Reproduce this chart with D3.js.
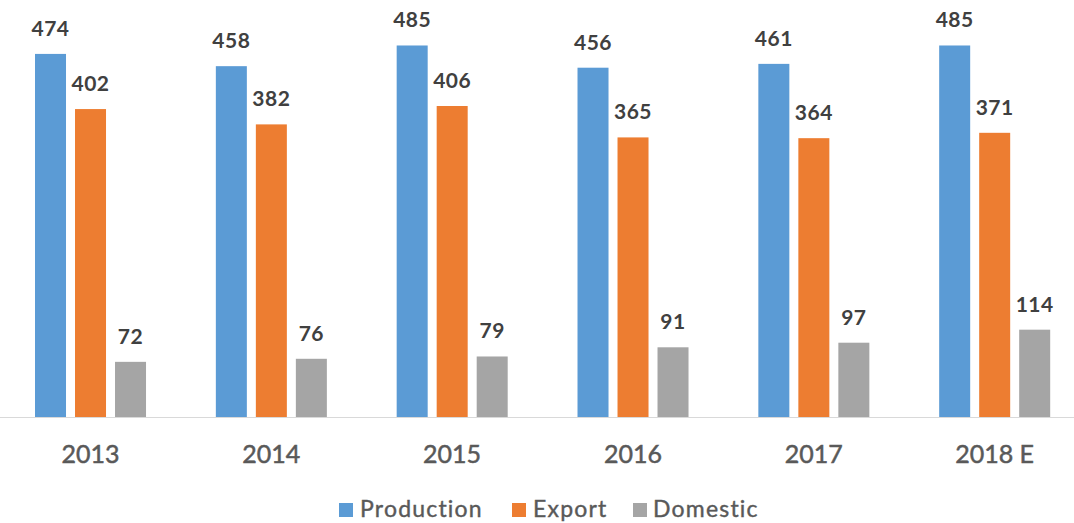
<!DOCTYPE html>
<html>
<head>
<meta charset="utf-8">
<script src="https://cdn.jsdelivr.net/npm/d3@7"></script>
<style>
  html, body { margin: 0; padding: 0; background: #fff; }
  svg { display: block; font-family: Lato, "Open Sans", sans-serif; }
</style>
</head>
<body>
<svg id="chart" width="1074" height="523"></svg>
<script>
const years = ["2013", "2014", "2015", "2016", "2017", "2018 E"];
const seriesNames = ["Production", "Export", "Domestic"];
const production = [474, 458, 485, 456, 461, 485];
const exportVals = [402, 382, 406, 365, 364, 371];
const domestic = [72, 76, 79, 91, 97, 114];
const colors = ["#5B9BD5", "#ED7D31", "#A5A5A5"];

const seriesValues = [production, exportVals, domestic];
const rows = years.map((y, i) => ({
  year: y,
  values: seriesNames.map((s, k) => ({ key: s, value: seriesValues[k][i], idx: k }))
}));

const svg = d3.select("#chart");
const baseY = 417;

const x0 = d3.scaleBand().domain(years).range([0, 1085]).padding(0);
const bw = x0.bandwidth();
const x1 = d3.scaleBand().domain(seriesNames)
  .range([bw * 0.1936, bw * 0.8075]).paddingInner(0.225).paddingOuter(0);
const y = d3.scaleLinear().domain([0, 500]).range([baseY, baseY - 383]);

// baseline
svg.append("line")
  .attr("x1", 0).attr("x2", 1074)
  .attr("y1", baseY + 0.5).attr("y2", baseY + 0.5)
  .attr("stroke", "#d9d9d9").attr("stroke-width", 1);

const groups = svg.selectAll("g.grp").data(rows).enter().append("g")
  .attr("class", "grp")
  .attr("transform", d => `translate(${x0(d.year)},0)`);

groups.selectAll("rect").data(d => d.values).enter().append("rect")
  .attr("x", d => x1(d.key))
  .attr("width", x1.bandwidth())
  .attr("y", d => y(d.value))
  .attr("height", d => baseY - y(d.value))
  .attr("fill", d => colors[d.idx]);

groups.selectAll("text.val").data(d => d.values).enter().append("text")
  .attr("class", "val")
  .attr("x", d => x1(d.key) + x1.bandwidth() / 2)
  .attr("y", d => y(d.value) - 18)
  .attr("text-anchor", "middle")
  .attr("font-size", 21)
  .attr("font-weight", "bold")
  .attr("letter-spacing", 0.5)
  .attr("fill", "#404040")
  .text(d => d.value);

// category labels
const xAxis = d3.axisBottom(x0).tickSize(0).tickPadding(0);
const ax = svg.append("g").attr("transform", `translate(0,${baseY})`).call(xAxis);
ax.select(".domain").remove();
ax.selectAll("text")
  .attr("dy", null)
  .attr("y", 46)
  .attr("font-size", 25)
  .attr("font-family", "Lato, 'Open Sans', sans-serif")
  .attr("fill", "#595959")
  .attr("stroke", "#595959")
  .attr("stroke-width", 0.5);

// legend
const legendItems = [
  { name: "Production", sx: 339, tx: 360 },
  { name: "Export", sx: 512, tx: 533 },
  { name: "Domestic", sx: 633, tx: 653 }
];
const lg = svg.append("g");
legendItems.forEach((it, k) => {
  lg.append("rect").attr("x", it.sx).attr("y", 503).attr("width", 14).attr("height", 14)
    .attr("fill", colors[k]);
  lg.append("text").attr("x", it.tx).attr("y", 517)
    .attr("font-size", 23).attr("letter-spacing", 1.2)
    .attr("fill", "#595959")
    .attr("stroke", "#595959").attr("stroke-width", 0.4)
    .text(seriesNames[k]);
});
</script>
</body>
</html>
